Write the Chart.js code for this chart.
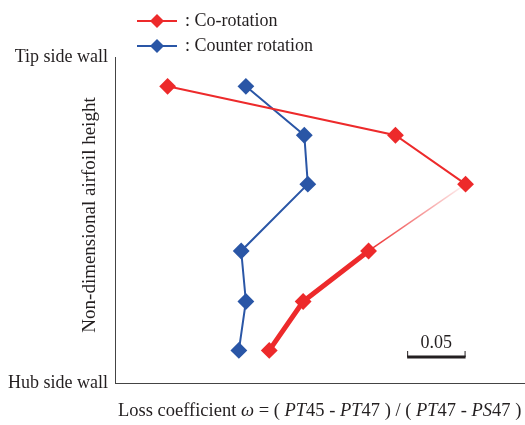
<!DOCTYPE html>
<html>
<head>
<meta charset="utf-8">
<script src="https://cdn.jsdelivr.net/npm/chart.js@4/dist/chart.umd.min.js"></script>
<style>
  html, body { margin: 0; padding: 0; background: #fff; }
  #wrap { width: 525px; height: 425px; }
</style>
</head>
<body>
<div id="wrap"><canvas id="lossChart" width="525" height="425"></canvas></div>
<script>
// spanwise positions (0 = hub, 1 = tip)
const heights = [0.91, 0.76, 0.61, 0.405, 0.25, 0.1];
const coRotation = [0.045, 0.24, 0.30, 0.217, 0.161, 0.132];
const counterRotation = [0.112, 0.162, 0.165, 0.108, 0.112, 0.106];
const seriesNames = [": Co-rotation", ": Counter rotation"];
const wallLabels = { 0: "Hub side wall", 1: "Tip side wall" };
const yTitle = "Non-dimensional airfoil height";
const scaleBar = { from: 0.25, size: 0.05, label: "0.05" };

const RED = "#ed2a2b";
const BLUE = "#2a56a6";
const TEXT = "#231f20";
const FONT = "'Liberation Serif', 'Times New Roman', serif";

const toPoints = (xs) => xs.map((x, i) => ({ x: x, y: heights[i] }));

// red line: thin, fading, then thick
const redWidths = [2, 2, 1.5, 5, 5];

const textPlugin = {
  id: "texts",
  afterDraw(chart) {
    const ctx = chart.ctx;
    const x = chart.scales.x;
    const y = chart.scales.y;
    ctx.save();
    ctx.fillStyle = TEXT;
    ctx.textBaseline = "middle";
    ctx.font = "18px " + FONT;

    // wall labels
    ctx.textAlign = "right";
    Object.keys(wallLabels).forEach((v) => {
      ctx.fillText(wallLabels[v], chart.chartArea.left - 7, y.getPixelForValue(Number(v)));
    });

    // y title
    ctx.save();
    ctx.font = "19px " + FONT;
    ctx.translate(90, 215);
    ctx.rotate(-Math.PI / 2);
    ctx.textAlign = "center";
    ctx.fillText(yTitle, 0, 0);
    ctx.restore();

    // x title with italic parts
    const parts = [
      ["Loss coefficient ", false], ["\u03C9", true], [" = ( ", false],
      ["PT", true], ["45 - ", false], ["PT", true], ["47 ) / ( ", false],
      ["PT", true], ["47 - ", false], ["PS", true], ["47 )", false]
    ];
    ctx.textAlign = "left";
    let tx = 118;
    parts.forEach(([s, it]) => {
      ctx.font = (it ? "italic " : "") + "18.5px " + FONT;
      ctx.fillText(s, tx, 411);
      tx += ctx.measureText(s).width;
    });

    // legend
    ctx.font = "18px " + FONT;
    [[RED, 21], [BLUE, 46]].forEach(([c, ly], i) => {
      ctx.strokeStyle = c;
      ctx.lineWidth = 2;
      ctx.beginPath();
      ctx.moveTo(137, ly);
      ctx.lineTo(177, ly);
      ctx.stroke();
      ctx.fillStyle = c;
      ctx.beginPath();
      ctx.moveTo(157, ly - 7);
      ctx.lineTo(164, ly);
      ctx.lineTo(157, ly + 7);
      ctx.lineTo(150, ly);
      ctx.closePath();
      ctx.fill();
      ctx.fillStyle = TEXT;
      ctx.fillText(seriesNames[i], 185, ly);
    });

    // scale bar
    const x0 = x.getPixelForValue(scaleBar.from);
    const x1 = x.getPixelForValue(scaleBar.from + scaleBar.size);
    const by = 357;
    ctx.strokeStyle = TEXT;
    ctx.lineWidth = 3;
    ctx.beginPath();
    ctx.moveTo(x0, by);
    ctx.lineTo(x1, by);
    ctx.stroke();
    ctx.lineWidth = 1;
    ctx.beginPath();
    ctx.moveTo(x0 + 0.5, by);
    ctx.lineTo(x0 + 0.5, by - 6);
    ctx.moveTo(x1 - 0.5, by);
    ctx.lineTo(x1 - 0.5, by - 6);
    ctx.stroke();
    ctx.textAlign = "center";
    ctx.fillText(scaleBar.label, (x0 + x1) / 2, 343);
    ctx.restore();
  }
};

const ctx = document.getElementById("lossChart").getContext("2d");
new Chart(ctx, {
  type: "scatter",
  data: {
    datasets: [
      {
        label: seriesNames[0],
        data: toPoints(coRotation),
        showLine: true,
        borderColor: RED,
        backgroundColor: RED,
        borderWidth: 2,
        pointStyle: "rectRot",
        pointRadius: 7,
        pointHoverRadius: 7,
        segment: {
          borderWidth: (c) => redWidths[c.p0DataIndex],
          borderColor: (c) => {
            if (c.p0DataIndex !== 2) return RED;
            const g = c.chart.ctx.createLinearGradient(c.p0.x, c.p0.y, c.p1.x, c.p1.y);
            g.addColorStop(0, "rgba(237,42,43,0.05)");
            g.addColorStop(1, RED);
            return g;
          }
        }
      },
      {
        label: seriesNames[1],
        data: toPoints(counterRotation),
        showLine: true,
        borderColor: BLUE,
        backgroundColor: BLUE,
        borderWidth: 2,
        pointStyle: "rectRot",
        pointRadius: 7,
        pointHoverRadius: 7
      }
    ]
  },
  options: {
    responsive: false,
    animation: false,
    layout: { autoPadding: false, padding: { left: 115, top: 57, right: 1, bottom: 42 } },
    plugins: { legend: { display: false }, tooltip: { enabled: false } },
    scales: {
      x: {
        type: "linear",
        min: 0,
        max: 0.35,
        ticks: { display: false },
        grid: { display: false, drawTicks: false },
        border: { display: true, color: "#444", width: 1 }
      },
      y: {
        type: "linear",
        min: 0,
        max: 1,
        ticks: { display: false },
        grid: { display: false, drawTicks: false },
        border: { display: true, color: "#444", width: 1 }
      }
    }
  },
  plugins: [textPlugin]
});
</script>
</body>
</html>
